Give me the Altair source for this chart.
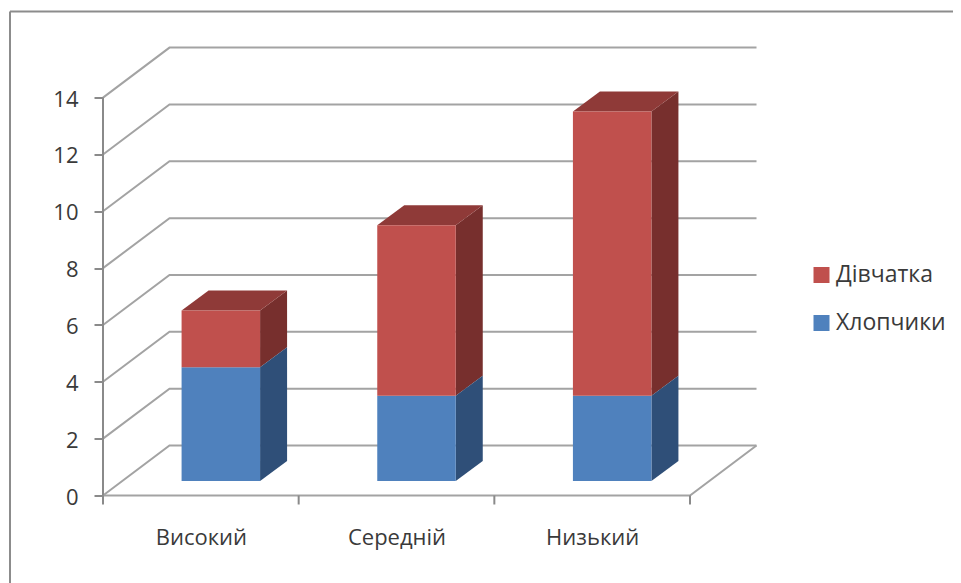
import altair as alt
import pandas as pd

categories = ["Високий", "Середній", "Низький"]
girls = [2, 6, 10]
boys = [4, 3, 3]
y_ticks = [0, 2, 4, 6, 8, 10, 12, 14]
x_ticks = [0, 1, 2, 3]

FONT = "Open Sans"
TEXT = "#3a3a3a"
GRID = "#a3a3a3"
AXIS = "#8a8a8a"
FRAME = "#8c8c8c"
front = {"Дівчатка": "#C0504D", "Хлопчики": "#4F81BD"}
side = {"Дівчатка": "#772F2D", "Хлопчики": "#2F4F78"}
top_color = "#8F3A38"

PX_X, PX_Y = 195.67, 28.42           # pixels per category / per value unit
W, H = 655, 448
X_MAX, Y_MAX = W / PX_X, H / PX_Y
WALL_X, WALL_Y = 66.5 / PX_X, 50 / PX_Y   # depth of the floor
BAR_X, BAR_Y = 27 / PX_X, 20 / PX_Y       # depth of a bar
BAR_W = 78.5 / PX_X
SHIFT_X, SHIFT_Y = 20 / PX_X, 14.5 / PX_Y   # bar offset on the floor

xs = alt.Scale(domain=[0, X_MAX], nice=False, zero=False)
ys = alt.Scale(domain=[0, Y_MAX], nice=False, zero=False)

# front faces, side faces, top faces
fronts, sides, tops, grid = [], [], [], []
for i, cat in enumerate(categories):
    x0 = i + 0.5 - BAR_W / 2 + SHIFT_X
    x1 = x0 + BAR_W
    lo = 0
    for name, val in (("Хлопчики", boys[i]), ("Дівчатка", girls[i])):
        hi = lo + val
        fronts.append(dict(series=name, x=x0, x2=x1, y=lo + SHIFT_Y, y2=hi + SHIFT_Y))
        for px, dy in ((x1, 0), (x1 + BAR_X, BAR_Y)):
            sides.append(dict(series=name, bar=cat, x=px,
                              y=lo + SHIFT_Y + dy, y2=hi + SHIFT_Y + dy))
        lo = hi
    for dx, dy in ((0, 0), (BAR_X, BAR_Y)):
        tops.append(dict(bar=cat, y=lo + SHIFT_Y + dy, x=x0 + dx, x2=x1 + dx))

for v in y_ticks:
    grid.append(dict(level=v, x=0, y=v, o=0))
    grid.append(dict(level=v, x=WALL_X, y=v + WALL_Y, o=1))
    grid.append(dict(level=v, x=3 + WALL_X, y=v + WALL_Y, o=2))
floor = [dict(level="front", x=0, y=0, o=0), dict(level="front", x=3, y=0, o=1),
         dict(level="front", x=3 + WALL_X, y=WALL_Y, o=2)]

X = alt.X("x:Q", scale=xs)
Y = alt.Y("y:Q", scale=ys)

label_expr = "[" + ",".join(f"'{c}'" for c in categories) + "][floor(datum.value)]"
axes = alt.Chart(pd.DataFrame({"x": [0.5, 1.5, 2.5], "y": [0, 0, 0]})).mark_point(opacity=0).encode(
    x=alt.X("x:Q", scale=xs, title=None,
            axis=alt.Axis(values=[0.5, 1.5, 2.5], labelExpr=label_expr, ticks=False, domain=False,
                          grid=False, labelFont=FONT, labelFontSize=22, labelColor=TEXT,
                          labelPadding=32, labelAngle=0)),
    y=alt.Y("y:Q", scale=ys, title=None,
            axis=alt.Axis(values=y_ticks, domain=False, grid=False, tickColor=AXIS, tickSize=9,
                          tickWidth=2, labelFont=FONT, labelFontSize=22, labelColor=TEXT,
                          labelPadding=16, labelOffset=1.5)),
)

grid_layer = alt.Chart(pd.DataFrame(grid)).mark_line(color=GRID, strokeWidth=2).encode(
    x=X, y=Y, detail="level:N", order="o:Q")
floor_layer = alt.Chart(pd.DataFrame(floor)).mark_line(color=GRID, strokeWidth=2).encode(
    x=X, y=Y, detail="level:N", order="o:Q")
y_line = alt.Chart(pd.DataFrame({"x": [0], "y": [0], "y2": [14]})).mark_rule(color=AXIS, strokeWidth=2).encode(
    x=X, y=Y, y2="y2:Q")
x_tick = alt.Chart(pd.DataFrame({"x": x_ticks})).mark_rule(color=AXIS, strokeWidth=2).encode(
    x=X, y=alt.value(H), y2=alt.value(H + 9))

sides_df = pd.DataFrame(sides)
side_layers = [
    alt.Chart(sides_df[sides_df.series == name]).mark_area(color=side[name], interpolate="linear").encode(
        x=X, y=alt.Y("y:Q", scale=ys, stack=None), y2="y2:Q", detail="bar:N")
    for name in side
]
top_layer = alt.Chart(pd.DataFrame(tops)).mark_area(color=top_color, orient="horizontal").encode(
    y=alt.Y("y:Q", scale=ys), x=alt.X("x:Q", scale=xs, stack=None), x2="x2:Q", detail="bar:N")

front_layer = alt.Chart(pd.DataFrame(fronts)).mark_rect().encode(
    x=X, x2="x2:Q", y=Y, y2="y2:Q",
    color=alt.Color("series:N", title=None,
                    scale=alt.Scale(domain=list(front), range=list(front.values())),
                    legend=alt.Legend(orient="none", legendX=707, legendY=216, symbolType="square",
                                      symbolSize=256, symbolStrokeWidth=0, labelFont=FONT,
                                      labelFontSize=23, labelColor=TEXT, rowPadding=24,
                                      labelOffset=3, labelLimit=300)),
)

frame_top = alt.Chart(pd.DataFrame({"a": [0]})).mark_rule(color=FRAME, strokeWidth=2).encode(
    x=alt.value(-93), x2=alt.value(W + 195), y=alt.value(-36))
frame_left = alt.Chart(pd.DataFrame({"a": [0]})).mark_rule(color=FRAME, strokeWidth=2).encode(
    x=alt.value(-93), y=alt.value(-36), y2=alt.value(H + 88))

chart = alt.layer(
    axes, frame_top, frame_left, grid_layer, floor_layer, y_line, x_tick,
    *side_layers, top_layer, front_layer
).properties(
    width=W, height=H,
    autosize=alt.AutoSizeParams(type="none"),
    padding={"left": 95, "top": 39.5, "right": 195, "bottom": 88},
).configure_view(stroke=None)

chart.save("out.html", embed_options={"renderer": "svg", "actions": False})
